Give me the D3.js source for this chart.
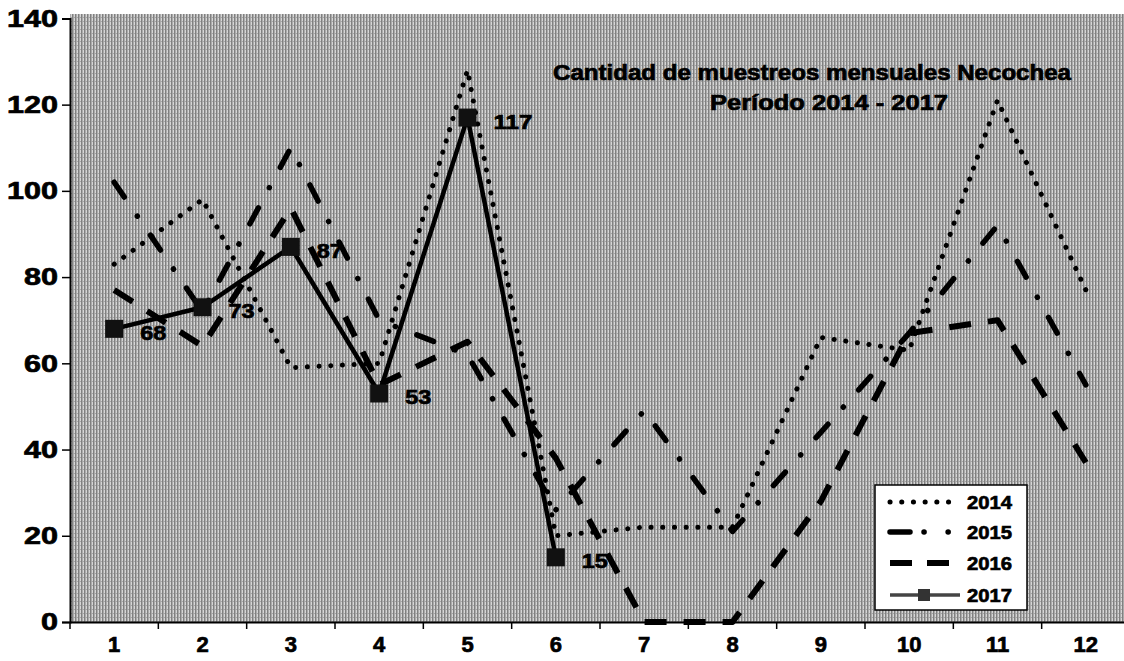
<!DOCTYPE html>
<html><head><meta charset="utf-8">
<script src="https://cdn.jsdelivr.net/npm/d3@7"></script>
<style>
html,body{margin:0;padding:0;background:#fff;}
svg{display:block;font-family:"Liberation Sans",Arial,sans-serif;font-weight:bold;}
</style></head>
<body>
<svg id="chart" width="1124" height="661"></svg>
<script>
const months = [1,2,3,4,5,6,7,8,9,10,11,12];
const yTicks = [0,20,40,60,80,100,120,140];
const titleLines = ["Cantidad de muestreos mensuales Necochea", "Período 2014 - 2017"];
const seriesNames = ["2014","2015","2016","2017"];
const v2014 = [83, 98, 59, 60, 128, 20, 22, 22, 66, 63, 121, 77];
const v2015 = [102, 72, 110, 70, 62, 26, 49, 21, 44, 67, 92, 55];
const v2016 = [77, 64, 96, 55, 65, 38, 0, 0, 28, 67, 70, 37];
const v2017 = [68, 73, 87, 53, 117, 15];

const svg = d3.select("#chart");
const W = 1124, H = 661;
const mLeft = 70, mRight = 1130, mTop = 18.4, mBottom = 622;

const x = d3.scaleBand().domain(months).range([mLeft, mRight]).padding(0);
const cx = m => x(m) + x.bandwidth()/2;
const y = d3.scaleLinear().domain([0,140]).range([mBottom, mTop]);

// background texture (scanned hatch look)
const defs = svg.append("defs");
const pat = defs.append("pattern").attr("id","tex").attr("patternUnits","userSpaceOnUse")
  .attr("width",3).attr("height",4);
pat.append("rect").attr("width",3).attr("height",4).attr("fill","#d6d6d6");
pat.append("rect").attr("x",0).attr("width",1.5).attr("height",4).attr("fill","#808080");
pat.append("rect").attr("x",1.5).attr("y",1).attr("width",1.5).attr("height",1).attr("fill","#a6a6a6");
svg.append("rect").attr("x",mLeft).attr("y",14).attr("width",W-mLeft).attr("height",mBottom-14)
  .attr("fill","url(#tex)");

const heavy = sel => sel.attr("stroke","#000").attr("stroke-width",0.7).attr("paint-order","stroke");

// title
heavy(svg.append("text").attr("x",812).attr("y",80).attr("text-anchor","middle")
  .attr("font-size",22).attr("textLength",518).attr("lengthAdjust","spacingAndGlyphs")
  .attr("fill","#000").text(titleLines[0]));
heavy(svg.append("text").attr("x",829).attr("y",110).attr("text-anchor","middle")
  .attr("font-size",22).attr("textLength",238).attr("lengthAdjust","spacingAndGlyphs")
  .attr("fill","#000").text(titleLines[1]));

// axes
const yAxis = svg.append("g").attr("transform",`translate(${mLeft},0)`)
  .call(d3.axisLeft(y).tickValues(yTicks).tickSize(8).tickPadding(4));
yAxis.select(".domain").attr("stroke","#000").attr("stroke-width",2);
yAxis.selectAll(".tick line").attr("stroke","#000").attr("stroke-width",1.5);
heavy(yAxis.selectAll(".tick text").attr("font-size",24).attr("font-family","Liberation Sans, Arial")
  .attr("font-weight","bold").attr("fill","#000")
  .attr("textLength", d => String(d).length*17)
  .attr("lengthAdjust","spacingAndGlyphs"));

const xAxis = svg.append("g").attr("transform",`translate(0,${mBottom})`)
  .call(d3.axisBottom(x).tickSize(0).tickPadding(14));
xAxis.select(".domain").attr("stroke","#000").attr("stroke-width",2);
heavy(xAxis.selectAll(".tick text").attr("font-size",22).attr("font-family","Liberation Sans, Arial")
  .attr("font-weight","bold").attr("fill","#000"));
svg.append("g").selectAll("line").data(months).join("line")
  .attr("x1", m => x(m)).attr("x2", m => x(m))
  .attr("y1", mBottom).attr("y2", mBottom+7).attr("stroke","#000").attr("stroke-width",1.5);

// lines
const line = d3.line().x((d,i)=>cx(months[i])).y(d=>y(d));
const styles = {
  "2014": {dash:"0.1 11.6", width:5, cap:"round"},
  "2015": {dash:"18 23 0.1 23", width:5.5, cap:"round"},
  "2016": {dash:"22 17", width:6, cap:"butt"},
  "2017": {dash:null, width:4.5, cap:"butt"}
};
const data = {"2014":v2014, "2015":v2015, "2016":v2016, "2017":v2017};
seriesNames.forEach(n => {
  const s = styles[n];
  const p = svg.append("path").attr("d", line(data[n])).attr("fill","none")
    .attr("stroke","#000").attr("stroke-width",s.width).attr("stroke-linecap",s.cap)
    .attr("stroke-linejoin","round");
  if (s.dash) p.attr("stroke-dasharray", s.dash);
});
// 2017 markers & labels
svg.append("g").selectAll("rect").data(v2017).join("rect")
  .attr("x",(d,i)=>cx(months[i])-9).attr("y",d=>y(d)-9)
  .attr("width",18).attr("height",18).attr("fill","#111");
heavy(svg.append("g").selectAll("text").data(v2017).join("text")
  .attr("x",(d,i)=>cx(months[i])+26).attr("y",d=>y(d)+11)
  .attr("font-size",20).attr("fill","#000")
  .attr("textLength", d => String(d).length*13).attr("lengthAdjust","spacingAndGlyphs")
  .text(d=>d));

// legend
const lg = svg.append("g");
lg.append("rect").attr("x",875).attr("y",485).attr("width",152).attr("height",125)
  .attr("fill","#fff").attr("stroke","#000").attr("stroke-width",1.5);
const rowY = [502, 532, 563, 595];
seriesNames.forEach((n,i) => {
  const s = styles[n];
  const p = lg.append("path").attr("d",`M890,${rowY[i]}H960`).attr("fill","none")
    .attr("stroke", n==="2017" ? "#444" : "#000").attr("stroke-width", n==="2017"?3.5:s.width)
    .attr("stroke-linecap",s.cap);
  if (s.dash) p.attr("stroke-dasharray", n==="2015" ? "20 14 0.1 24 0.1 20" : (n==="2016" ? "22 15" : s.dash));
  if (n==="2017") lg.append("rect").attr("x",918).attr("y",rowY[i]-6).attr("width",12).attr("height",12).attr("fill","#333");
  heavy(lg.append("text").attr("x",967).attr("y",rowY[i]+7).attr("font-size",19)
    .attr("textLength",45).attr("lengthAdjust","spacingAndGlyphs").attr("fill","#000").text(n));
});
</script>
</body></html>
